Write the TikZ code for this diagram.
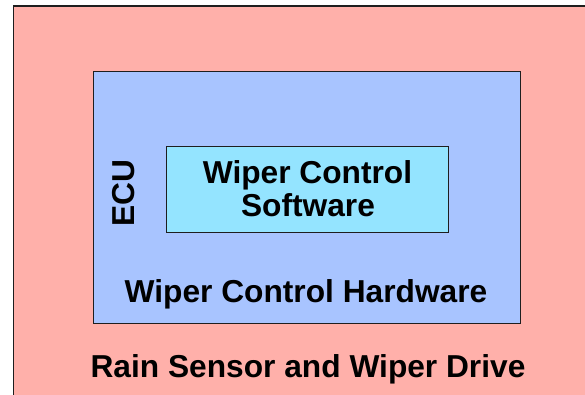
\documentclass[tikz,border=0pt]{standalone}
\usepackage{fontspec}
\setmainfont{Liberation Sans}
\definecolor{sensorpink}{RGB}{255,176,170}
\definecolor{ecublue}{RGB}{168,196,255}
\definecolor{swcyan}{RGB}{148,228,255}
\definecolor{edge}{RGB}{30,30,30}
\begin{document}
\begin{tikzpicture}[x=1pt,y=-1pt,
  layer/.style={draw=edge, line width=1pt, rectangle, inner sep=0pt, outer sep=0pt},
  lbl/.style={font=\fontsize{31.7}{33}\selectfont\bfseries, inner sep=0pt, align=center}]
\useasboundingbox (0,0) rectangle (585,394);
\clip (0,0) rectangle (585,394);
% outer layer: sensor and drive
\node[layer, fill=sensorpink, line width=1.5pt, anchor=north west,
      minimum width=600pt, minimum height=420pt] (sensor) at (13.5,6) {};
% ECU hardware
\node[layer, fill=ecublue, minimum width=427pt, minimum height=252pt] (ecu) at (306.5,197) {};
% software inside the ECU
\node[layer, fill=swcyan, minimum width=282.5pt, minimum height=85.5pt] (sw) at (307.5,189.5) {};
\node[lbl, anchor=base] (swtxt1) at (307.5,183.5) {Wiper Control};
\node[lbl, anchor=base] (swtxt2) at (308,216) {Software};
\node[lbl, anchor=base, rotate=90] (ecutxt) at (134,193.5) {ECU};
\node[lbl, anchor=base] (hwtxt) at (306,302.5) {Wiper Control Hardware};
\node[lbl, anchor=base] (sensortxt) at (308,377.5) {Rain Sensor and Wiper Drive};
\end{tikzpicture}
\end{document}
